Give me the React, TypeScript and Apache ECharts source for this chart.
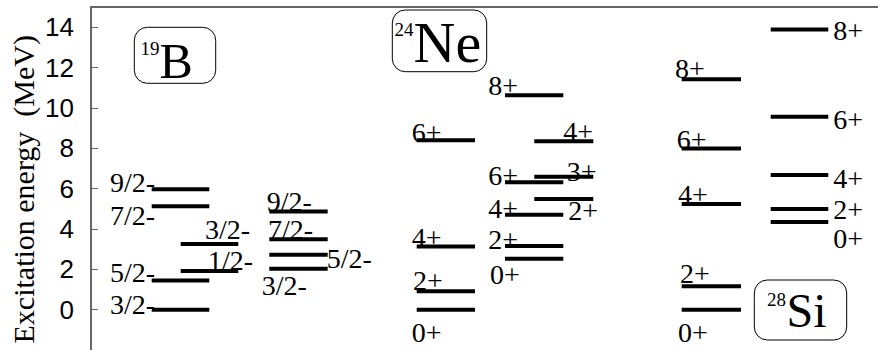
import React, { useEffect, useRef } from 'react';
import * as echarts from 'echarts';

// ---- Data: excitation energies (MeV) and spin-parity labels ----
const b19ColA = [0, 1.44, 5.12, 5.97];
const b19ColALabels = ['3/2-', '5/2-', '7/2-', '9/2-'];
const b19ColB = [1.92, 3.25];
const b19ColBLabels = ['1/2-', '3/2-'];
const b19ColC = [2.03, 2.72, 3.49, 4.86];
const b19ColCLabels = ['3/2-', '5/2-', '7/2-', '9/2-'];

const ne24ColA = [0, 0.91, 3.13, 8.4];
const ne24ColALabels = ['0+', '2+', '4+', '6+'];
const ne24ColB = [2.52, 3.16, 4.7, 6.31, 10.63];
const ne24ColBLabels = ['0+', '2+', '4+', '6+', '8+'];
const ne24ColC = [5.49, 6.59, 8.35];
const ne24ColCLabels = ['2+', '3+', '4+'];

const si28ColA = [0, 1.16, 5.24, 7.99, 11.42];
const si28ColALabels = ['0+', '2+', '4+', '6+', '8+'];
const si28ColB = [4.34, 4.99, 6.67, 9.56, 13.89];
const si28ColBLabels = ['0+', '2+', '4+', '6+', '8+'];

const yTickLabels = ['0', '2', '4', '6', '8', '10', '12', '14'];
const yAxisTitle = 'Excitation energy  (MeV)';

// ---- Layout (positions on the hidden x axis, label offsets in px) ----
const colSpan = {
  b19A: [151.7, 209.3],
  b19B: [180.7, 238.3],
  b19C: [269.3, 327.7],
  ne24A: [416.7, 475],
  ne24B: [505, 563.3],
  ne24C: [534.3, 593.3],
  si28A: [681.7, 741],
  si28B: [770.7, 828.3],
};
// dx: label left edge relative to line start; dy: label middle relative to line
const offB19A = { dx: [-41.7, -41.7, -41.7, -41.7], dy: [-5, -7.7, 9.3, -6.3] };
const offB19B = { dx: [27.3, 24.3], dy: [-10, -14.5] };
const offB19C = { dx: [-7.6, 57.4, -1.3, -2.6], dy: [17.3, 3.3, -9.3, -10] };
const offNe24A = { dx: [-5, -3.7, -5, -5], dy: [23.3, -10.8, -9.3, -7.7] };
const offNe24B = { dx: [-15, -16.7, -16.7, -16.7, -16.7], dy: [16, -6, -6.7, -7.3, -10] };
const offNe24C = { dx: [34, 32.4, 29], dy: [11.8, -5, -9.3] };
const offSi28A = { dx: [-3.7, -1.7, -3.7, -5, -6.7], dy: [22.5, -12.5, -9, -9.2, -10.7] };
const offSi28B = { dx: [62.6, 62.6, 62.6, 62.6, 62.6], dy: [16.8, 1, 3.3, 2.5, 1] };

type Level = { x1: number; x2: number; e: number; label: string; dx: number; dy: number };

function build(values: number[], labels: string[], span: number[], off: { dx: number[]; dy: number[] }): Level[] {
  return values.map((e, i) => ({ x1: span[0], x2: span[1], e, label: labels[i], dx: off.dx[i], dy: off.dy[i] }));
}

const levels: Level[] = [
  ...build(b19ColA, b19ColALabels, colSpan.b19A, offB19A),
  ...build(b19ColB, b19ColBLabels, colSpan.b19B, offB19B),
  ...build(b19ColC, b19ColCLabels, colSpan.b19C, offB19C),
  ...build(ne24ColA, ne24ColALabels, colSpan.ne24A, offNe24A),
  ...build(ne24ColB, ne24ColBLabels, colSpan.ne24B, offNe24B),
  ...build(ne24ColC, ne24ColCLabels, colSpan.ne24C, offNe24C),
  ...build(si28ColA, si28ColALabels, colSpan.si28A, offSi28A),
  ...build(si28ColB, si28ColBLabels, colSpan.si28B, offSi28B),
];

const AXIS_COLOR = '#666';

function serifText(text: string, size: number) {
  return {
    text,
    fill: '#000',
    font: `${size}px "Liberation Serif"`,
    verticalAlign: 'middle',
    legacy: false,
  };
}

function nucleusBox(x: number, y: number, w: number, h: number, sup: string, supX: number, supY: number, main: string, mainX: number, mainY: number, mainSize: number) {
  return [
    { type: 'rect', shape: { x, y, width: w, height: h, r: 13 }, style: { fill: '#fff', stroke: '#000', lineWidth: 1 }, z: 10 },
    { type: 'text', x: supX, y: supY, style: serifText(sup, 19), z: 11 },
    { type: 'text', x: mainX, y: mainY, style: serifText(main, mainSize), z: 11 },
  ];
}

export default function App() {
  const ref = useRef<HTMLDivElement>(null);
  useEffect(() => {
    document.body.style.margin = '0';
    if (!ref.current) return;
    const chart = echarts.init(ref.current, undefined, { renderer: 'svg' });
    const boxes = [
      ...nucleusBox(134.3, 27.3, 81.4, 56, '19', 140.5, 48.3, 'B', 159.5, 60.8, 50),
      ...nucleusBox(392.3, 10, 94.4, 61.7, '24', 394.5, 29.2, 'Ne', 413.5, 42.5, 58),
      ...nucleusBox(754.3, 280, 92.4, 60, '28', 767, 299.2, 'Si', 786.5, 310, 48),
    ];
    const option: any = {
      animation: false,
      backgroundColor: '#fff',
      grid: { left: 91, right: 0, top: 7, height: 345.2 },
      xAxis: {
        type: 'value',
        position: 'top',
        min: 91,
        max: 878,
        axisLine: { show: true, onZero: false, lineStyle: { color: AXIS_COLOR, width: 2 } },
        axisTick: { show: false },
        axisLabel: { show: false },
        splitLine: { show: false },
      },
      yAxis: {
        type: 'value',
        min: -2,
        max: 15,
        interval: 2,
        axisLine: { show: true, onZero: false, lineStyle: { color: AXIS_COLOR, width: 2 } },
        axisTick: { show: true, inside: true, length: 7, lineStyle: { color: AXIS_COLOR, width: 1 } },
        axisLabel: {
          margin: 17,
          color: '#000',
          fontFamily: 'Liberation Sans',
          fontSize: 26,
          formatter: (v: number) => (yTickLabels.includes(String(v)) ? String(v) : ''),
        },
        splitLine: { show: false },
      },
      series: [
        {
          type: 'custom',
          clip: false,
          silent: true,
          data: levels.map((l) => [l.x1, l.x2, l.e]),
          encode: { x: [0, 1], y: 2 },
          renderItem: (params: any, api: any) => {
            const lv = levels[params.dataIndex];
            const p1 = api.coord([lv.x1, lv.e]);
            const p2 = api.coord([lv.x2, lv.e]);
            return {
              type: 'line',
              shape: { x1: p1[0], y1: p1[1], x2: p2[0], y2: p2[1] },
              style: { stroke: '#000', lineWidth: 4 },
            };
          },
        },
      ],
      graphic: boxes,
    };
    chart.setOption(option);

    // Level labels, placed through the chart's own scales
    const labelEls = levels.map((l) => {
      const p = chart.convertToPixel({ gridIndex: 0 }, [l.x1, l.e]) as number[];
      return { type: 'text', x: p[0] + l.dx, y: p[1] + l.dy, style: serifText(l.label, 28), z: 11 };
    });
    const titleEl = {
      type: 'text',
      x: 23.5,
      y: 343.5,
      rotation: Math.PI / 2,
      style: serifText(yAxisTitle, 30),
      z: 11,
    };
    chart.setOption({ graphic: [...boxes, titleEl, ...labelEls] }, { replaceMerge: ['graphic'] });
    return () => chart.dispose();
  }, []);
  return <div ref={ref} style={{ width: 878, height: 350 }} />;
}
